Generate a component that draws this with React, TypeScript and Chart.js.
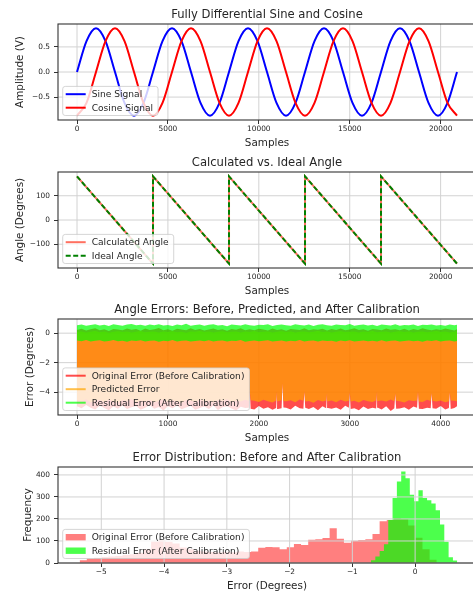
import React, { useEffect, useRef } from 'react';
import { Chart, registerables } from 'chart.js';

Chart.register(...registerables);

const FONT = 'DejaVu Sans';
const TXT = '#262626';

// ---------- Plot 1: sine / cosine ----------
const sigSamples = [
  0, 523, 1045, 1568, 2090, 2613, 3135, 3658,
  4180, 4703, 5225, 5748, 6270, 6793, 7315, 7838,
  8360, 8883, 9405, 9928, 10450, 10973, 11495, 12018,
  12540, 13063, 13585, 14108, 14630, 15153, 15675, 16198,
  16720, 17243, 17765, 18288, 18810, 19333, 19855, 20378,
  20900,
];
const sineValues = [
  0, 0.615, 0.87, 0.615, 0, -0.615, -0.87, -0.615,
  0, 0.615, 0.87, 0.615, 0, -0.615, -0.87, -0.615,
  0, 0.615, 0.87, 0.615, 0, -0.615, -0.87, -0.615,
  0, 0.615, 0.87, 0.615, 0, -0.615, -0.87, -0.615,
  0, 0.615, 0.87, 0.615, 0, -0.615, -0.87, -0.615,
  0,
];
const cosineValues = [
  -0.87, -0.615, 0, 0.615, 0.87, 0.615, 0, -0.615,
  -0.87, -0.615, 0, 0.615, 0.87, 0.615, 0, -0.615,
  -0.87, -0.615, 0, 0.615, 0.87, 0.615, 0, -0.615,
  -0.87, -0.615, 0, 0.615, 0.87, 0.615, 0, -0.615,
  -0.87, -0.615, 0, 0.615, 0.87, 0.615, 0, -0.615,
  -0.87,
];
const sampleTicks = [0, 5000, 10000, 15000, 20000];
const ampTicks = [-0.5, 0, 0.5];

// ---------- Plot 2: angles ----------
const angleSamples = [0, 4180, 4181, 8360, 8361, 12540, 12541, 16720, 16721, 20900];
const calcAngle = [180, -180, 180, -180, 180, -180, 180, -180, 180, -180];
const idealAngle = [180, -180, 180, -180, 180, -180, 180, -180, 180, -180];
const angleTicks = [-100, 0, 100];

// ---------- Plot 3: angle errors (band envelopes) ----------
const errSamples = [
  0, 50, 100, 150, 200, 250, 300, 350, 400, 450,
  500, 550, 600, 650, 700, 750, 800, 850, 900, 950,
  1000, 1050, 1100, 1150, 1200, 1250, 1300, 1350, 1400, 1450,
  1500, 1550, 1600, 1650, 1700, 1750, 1800, 1850, 1900, 1950,
  2000, 2050, 2100, 2150, 2200, 2250, 2300, 2350, 2400, 2450,
  2500, 2550, 2600, 2650, 2700, 2750, 2800, 2850, 2900, 2950,
  3000, 3050, 3100, 3150, 3200, 3250, 3300, 3350, 3400, 3450,
  3500, 3550, 3600, 3650, 3700, 3750, 3800, 3850, 3900, 3950,
  4000, 4050, 4100, 4150, 4179,
];
const origErrHigh = [
  0.22, 0.30, 0.18, 0.27, 0.33, 0.20, 0.26, 0.15, 0.29, 0.24,
  0.19, 0.31, 0.23, 0.28, 0.17, 0.32, 0.21, 0.26, 0.35, 0.20,
  0.27, 0.16, 0.30, 0.24, 0.19, 0.33, 0.22, 0.28, 0.18, 0.25,
  0.31, 0.21, 0.27, 0.17, 0.29, 0.23, 0.34, 0.20, 0.26, 0.19,
  0.30, 0.24, 0.18, 0.32, 0.22, 0.27, 0.16, 0.29, 0.25, 0.21,
  0.33, 0.19, 0.26, 0.23, 0.30, 0.18, 0.28, 0.22, 0.31, 0.20,
  0.25, 0.34, 0.21, 0.27, 0.17, 0.29, 0.24, 0.19, 0.32, 0.23,
  0.26, 0.20, 0.30, 0.18, 0.28, 0.22, 0.33, 0.25, 0.19, 0.27,
  0.21, 0.31, 0.24, 0.18, 0.26,
];
const predErrHigh = [
  0.08, 0.12, 0.04, 0.10, 0.14, 0.06, 0.11, 0.03, 0.09, 0.13,
  0.07, 0.12, 0.05, 0.10, 0.15, 0.06, 0.09, 0.12, 0.04, 0.11,
  0.08, 0.13, 0.06, 0.10, 0.03, 0.12, 0.09, 0.14, 0.07, 0.11,
  0.05, 0.10, 0.13, 0.06, 0.09, 0.12, 0.04, 0.11, 0.08, 0.14,
  0.06, 0.10, 0.12, 0.05, 0.09, 0.13, 0.07, 0.11, 0.04, 0.10,
  0.12, 0.06, 0.09, 0.14, 0.08, 0.11, 0.05, 0.10, 0.13, 0.07,
  0.09, 0.12, 0.04, 0.11, 0.08, 0.14, 0.06, 0.10, 0.12, 0.05,
  0.09, 0.13, 0.07, 0.11, 0.04, 0.10, 0.12, 0.06, 0.09, 0.14,
  0.08, 0.11, 0.05, 0.10, 0.12,
];
const residErrHigh = [
  0.53, 0.58, 0.50, 0.56, 0.61, 0.52, 0.57, 0.49, 0.60, 0.55,
  0.51, 0.58, 0.62, 0.53, 0.57, 0.50, 0.59, 0.54, 0.61, 0.52,
  0.56, 0.48, 0.58, 0.53, 0.63, 0.51, 0.55, 0.59, 0.50, 0.57,
  0.60, 0.52, 0.55, 0.47, 0.59, 0.56, 0.52, 0.61, 0.54, 0.50,
  0.57, 0.55, 0.60, 0.49, 0.56, 0.59, 0.53, 0.51, 0.61, 0.55,
  0.52, 0.58, 0.48, 0.57, 0.60, 0.54, 0.51, 0.59, 0.56, 0.53,
  0.62, 0.50, 0.55, 0.58, 0.52, 0.57, 0.48, 0.59, 0.55, 0.52,
  0.60, 0.51, 0.56, 0.53, 0.58, 0.49, 0.57, 0.55, 0.59, 0.52,
  0.56, 0.50, 0.58, 0.54, 0.57,
];
const residErrLow = [
  -0.50, -0.55, -0.47, -0.57, -0.52, -0.48, -0.56, -0.53, -0.46, -0.55,
  -0.51, -0.58, -0.49, -0.54, -0.48, -0.56, -0.52, -0.50, -0.59, -0.51,
  -0.55, -0.47, -0.56, -0.52, -0.49, -0.57, -0.53, -0.50, -0.55, -0.48,
  -0.57, -0.52, -0.49, -0.56, -0.51, -0.54, -0.47, -0.58, -0.53, -0.50,
  -0.55, -0.52, -0.48, -0.56, -0.53, -0.49, -0.57, -0.51, -0.55, -0.47,
  -0.56, -0.52, -0.50, -0.57, -0.49, -0.54, -0.52, -0.59, -0.50, -0.55,
  -0.48, -0.56, -0.53, -0.49, -0.55, -0.51, -0.57, -0.48, -0.56, -0.52,
  -0.50, -0.57, -0.53, -0.49, -0.55, -0.52, -0.58, -0.50, -0.54, -0.48,
  -0.56, -0.52, -0.49, -0.57, -0.53,
];
// lower edges of original / predicted error, with narrow gaps (spikes)
const lowSamples = [
  0, 50, 100, 150, 200, 250, 300, 350, 400, 450,
  500, 550, 600, 650, 700, 750, 800, 850, 900, 950,
  1000, 1050, 1100, 1150, 1200, 1250, 1300, 1350, 1400, 1450,
  1500, 1550, 1600, 1650, 1700, 1750, 1800, 1850,
  1890, 1900, 1910,
  1950, 2000, 2050, 2100, 2150,
  2190, 2200, 2210,
  2250, 2260, 2270,
  2300, 2350, 2400, 2450,
  2490, 2500, 2510,
  2550, 2600, 2650, 2700,
  2740, 2750, 2760,
  2800, 2850, 2900, 2950,
  2990, 3000, 3010,
  3050, 3100, 3150, 3200, 3250,
  3290, 3300, 3310,
  3350, 3400, 3450,
  3490, 3500, 3510,
  3550, 3600, 3650, 3700,
  3740, 3750, 3760,
  3800, 3850,
  3890, 3900, 3910,
  3950, 4000, 4050,
  4090, 4100, 4110,
  4150, 4179,
];
const predErrLow = [
  -4.55, -4.62, -4.48, -4.70, -4.58, -4.52, -4.66, -4.50, -4.61, -4.72,
  -4.54, -4.60, -4.47, -4.68, -4.56, -4.63, -4.51, -4.70, -4.58, -4.49,
  -4.65, -4.55, -4.61, -4.74, -4.52, -4.59, -4.67, -4.50, -4.62, -4.56,
  -4.71, -4.53, -4.60, -4.48, -4.66, -4.57, -4.63, -4.51,
  -4.60, -3.90, -4.55,
  -4.58, -4.66, -4.52, -4.61, -4.70,
  -4.57, -3.95, -4.62,
  -4.55, -3.40, -4.60,
  -4.62, -4.55, -4.68, -4.50,
  -4.58, -3.95, -4.64,
  -4.60, -4.72, -4.54, -4.63,
  -4.57, -4.05, -4.61,
  -4.57, -4.69, -4.51, -4.64,
  -4.59, -4.00, -4.63,
  -4.58, -4.70, -4.53, -4.61, -4.67,
  -4.55, -3.95, -4.60,
  -4.56, -4.64, -4.50,
  -4.62, -4.10, -4.58,
  -4.62, -4.71, -4.55, -4.60,
  -4.57, -3.98, -4.63,
  -4.66, -4.52,
  -4.60, -4.05, -4.58,
  -4.63, -4.57, -4.69,
  -4.61, -4.00, -4.56,
  -4.58, -4.62,
];
const origErrLow = [
  -4.95, -5.10, -4.88, -5.05, -5.18, -4.92, -5.08, -5.22, -4.98, -5.12,
  -4.90, -5.15, -5.02, -4.94, -5.20, -5.06, -4.89, -5.13, -5.00, -5.24,
  -4.96, -5.09, -4.91, -5.16, -5.04, -4.93, -5.19, -5.07, -4.97, -5.14,
  -4.90, -5.21, -5.03, -4.95, -5.11, -5.25, -4.99, -5.08,
  -5.05, -3.90, -5.12,
  -5.17, -4.94, -5.12, -5.02, -5.20,
  -5.08, -3.95, -5.15,
  -5.10, -3.40, -5.04,
  -5.06, -5.18, -4.93, -5.10,
  -5.12, -3.95, -5.06,
  -5.15, -5.00, -5.22, -4.96,
  -5.10, -4.05, -5.08,
  -5.13, -5.04, -5.19, -4.92,
  -5.06, -4.00, -5.14,
  -5.09, -5.23, -4.98, -5.14, -5.06,
  -5.11, -3.95, -5.05,
  -5.17, -4.95, -5.28,
  -5.09, -4.10, -5.13,
  -5.11, -5.02, -5.20, -4.97,
  -5.06, -3.98, -5.12,
  -5.15, -5.05,
  -5.10, -4.05, -5.09,
  -5.12, -4.94, -5.18,
  -5.07, -4.00, -5.14,
  -5.08, -4.96,
];
const errSampleTicks = [0, 1000, 2000, 3000, 4000];
const errTicks = [-4, -2, 0];

// ---------- Plot 4: histograms ----------
const origBinStart = -5.345;
const origBinWidth = 0.1138;
const origCounts = [
  12, 20, 24, 27, 30, 32, 36, 40, 46, 62,
  98, 104, 96, 88, 70, 62, 56, 52, 50, 48,
  50, 49, 52, 50, 52, 69, 73, 72, 62, 72,
  86, 82, 106, 108, 114, 158, 110, 92, 101, 105,
  108, 132, 190, 195, 203, 200, 170, 115, 62, 15,
];
const residBinStart = -0.703;
const residBinWidth = 0.0687;
const residCounts = [
  12, 30, 55, 85, 195, 295, 370, 415, 385, 310,
  280, 330, 295, 285, 270, 240, 175, 97, 26, 11,
];
const errorTicks = [-5, -4, -3, -2, -1, 0];
const freqTicks = [0, 100, 200, 300, 400];

// ---------- helpers ----------
function fmt(v: number, dec: number) {
  const s = Math.abs(v).toFixed(dec);
  return (v < 0 ? '\u2212' : '') + s;
}

function xy(xs: number[], ys: number[]) {
  return xs.map((x, i) => ({ x, y: ys[i] }));
}

function histPoints(start: number, width: number, counts: number[]) {
  const pts = [{ x: start, y: 0 }];
  counts.forEach((c, i) => pts.push({ x: start + i * width, y: c }));
  const end = start + counts.length * width;
  pts.push({ x: end, y: counts[counts.length - 1] });
  pts.push({ x: end, y: 0 });
  return pts;
}

type LegendItem = { label: string; color: string; dash?: number[]; patch?: boolean };
type Decor = {
  title: string;
  xLabel: string;
  yLabel: string;
  yLabelX: number;
  gridOnTop?: boolean;
  legend: LegendItem[];
};

function drawGrid(chart: any) {
  const { ctx, chartArea: a, scales } = chart;
  ctx.save();
  ctx.strokeStyle = '#d2d2d2';
  ctx.lineWidth = 1;
  scales.x.ticks.forEach((t: any) => {
    const p = scales.x.getPixelForValue(t.value);
    ctx.beginPath();
    ctx.moveTo(p, a.top);
    ctx.lineTo(p, a.bottom);
    ctx.stroke();
  });
  scales.y.ticks.forEach((t: any) => {
    const p = scales.y.getPixelForValue(t.value);
    ctx.beginPath();
    ctx.moveTo(a.left, p);
    ctx.lineTo(a.right, p);
    ctx.stroke();
  });
  ctx.restore();
}

function roundRectPath(ctx: any, x: number, y: number, w: number, h: number, r: number) {
  ctx.beginPath();
  ctx.moveTo(x + r, y);
  ctx.lineTo(x + w - r, y);
  ctx.quadraticCurveTo(x + w, y, x + w, y + r);
  ctx.lineTo(x + w, y + h - r);
  ctx.quadraticCurveTo(x + w, y + h, x + w - r, y + h);
  ctx.lineTo(x + r, y + h);
  ctx.quadraticCurveTo(x, y + h, x, y + h - r);
  ctx.lineTo(x, y + r);
  ctx.quadraticCurveTo(x, y, x + r, y);
  ctx.closePath();
}

function drawLegend(chart: any, items: LegendItem[]) {
  const { ctx, chartArea: a } = chart;
  ctx.save();
  ctx.font = `9.1px "${FONT}"`;
  const pitch = 13.5;
  const pad = 7.8;
  const textW = Math.max(...items.map((i) => ctx.measureText(i.label).width));
  const L = a.left + 4.7;
  const H = pad * 2 + pitch * (items.length - 1);
  const B = a.bottom - 4.5;
  const T = B - H;
  const W = 29 + textW + 5;
  roundRectPath(ctx, L, T, W, H, 2.5);
  ctx.fillStyle = 'rgba(255,255,255,0.8)';
  ctx.fill();
  ctx.strokeStyle = 'rgba(204,204,204,0.8)';
  ctx.lineWidth = 1;
  ctx.stroke();
  items.forEach((it, i) => {
    const cy = T + pad + i * pitch;
    if (it.patch) {
      ctx.fillStyle = it.color;
      ctx.fillRect(L + 3, cy - 3.2, 20, 6.4);
    } else {
      ctx.strokeStyle = it.color;
      ctx.lineWidth = 2;
      ctx.setLineDash(it.dash || []);
      ctx.beginPath();
      ctx.moveTo(L + 3, cy);
      ctx.lineTo(L + 23, cy);
      ctx.stroke();
      ctx.setLineDash([]);
    }
    ctx.fillStyle = TXT;
    ctx.textAlign = 'left';
    ctx.textBaseline = 'middle';
    ctx.fillText(it.label, L + 29, cy + 0.5);
  });
  ctx.restore();
}

function decorPlugin(cfg: Decor) {
  return {
    id: 'decor',
    beforeDatasetsDraw(chart: any) {
      if (!cfg.gridOnTop) drawGrid(chart);
    },
    afterDatasetsDraw(chart: any) {
      const { ctx, chartArea: a } = chart;
      if (cfg.gridOnTop) drawGrid(chart);
      ctx.save();
      ctx.strokeStyle = '#333333';
      ctx.lineWidth = 1.1;
      ctx.strokeRect(a.left, a.top, a.right - a.left, a.bottom - a.top);
      ctx.restore();
      drawLegend(chart, cfg.legend);
      ctx.save();
      ctx.fillStyle = TXT;
      ctx.textAlign = 'center';
      ctx.textBaseline = 'middle';
      ctx.font = `11.6px "${FONT}"`;
      ctx.fillText(cfg.title, (a.left + a.right) / 2, a.top - 9.5);
      ctx.font = `10.4px "${FONT}"`;
      ctx.fillText(cfg.xLabel, (a.left + a.right) / 2, a.bottom + 23);
      ctx.translate(cfg.yLabelX, (a.top + a.bottom) / 2);
      ctx.rotate(-Math.PI / 2);
      ctx.fillText(cfg.yLabel, 0, 0);
      ctx.restore();
    },
  };
}

type AxisCfg = { min: number; max: number; ticks: number[]; dec: number };

function baseOptions(x: AxisCfg, y: AxisCfg) {
  const tickFont = { family: FONT, size: 7.4 };
  const grid = { drawOnChartArea: false, drawTicks: true, tickLength: 4, tickColor: '#333333', tickWidth: 1 };
  return {
    responsive: false,
    animation: false,
    devicePixelRatio: 1,
    events: [],
    layout: { padding: { top: 24, right: 4, left: 0, bottom: 0 } },
    plugins: { legend: { display: false }, title: { display: false }, tooltip: { enabled: false } },
    elements: { point: { radius: 0 } },
    scales: {
      x: {
        type: 'linear',
        min: x.min,
        max: x.max,
        afterBuildTicks: (s: any) => {
          s.ticks = x.ticks.map((v) => ({ value: v }));
        },
        afterFit: (s: any) => {
          s.height = 28;
        },
        ticks: {
          autoSkip: false,
          maxRotation: 0,
          padding: 1,
          color: TXT,
          font: tickFont,
          callback: (v: any) => fmt(Number(v), x.dec),
        },
        grid,
        border: { display: false },
      },
      y: {
        type: 'linear',
        min: y.min,
        max: y.max,
        afterBuildTicks: (s: any) => {
          s.ticks = y.ticks.map((v) => ({ value: v }));
        },
        afterFit: (s: any) => {
          s.width = 58;
        },
        ticks: {
          autoSkip: false,
          padding: 4,
          color: TXT,
          font: tickFont,
          callback: (v: any) => fmt(Number(v), y.dec),
        },
        grid,
        border: { display: false },
      },
    },
  };
}

// ---------- chart configs ----------
function sineConfig(): any {
  return {
    type: 'line',
    data: {
      datasets: [
        { data: xy(sigSamples, cosineValues), borderColor: '#ff0000', borderWidth: 2, cubicInterpolationMode: 'monotone', pointRadius: 0, fill: false },
        { data: xy(sigSamples, sineValues), borderColor: '#0000ff', borderWidth: 2, cubicInterpolationMode: 'monotone', pointRadius: 0, fill: false },
      ],
    },
    options: baseOptions({ min: -1045, max: 21945, ticks: sampleTicks, dec: 0 }, { min: -0.957, max: 0.957, ticks: ampTicks, dec: 1 }),
    plugins: [
      decorPlugin({
        title: 'Fully Differential Sine and Cosine',
        xLabel: 'Samples',
        yLabel: 'Amplitude (V)',
        yLabelX: 20,
        legend: [
          { label: 'Sine Signal', color: '#0000ff' },
          { label: 'Cosine Signal', color: '#ff0000' },
        ],
      }),
    ],
  };
}

function angleConfig(): any {
  return {
    type: 'line',
    data: {
      datasets: [
        { data: xy(angleSamples, idealAngle), borderColor: '#008000', borderWidth: 2, borderDash: [5, 2.5], pointRadius: 0, fill: false },
        { data: xy(angleSamples, calcAngle), borderColor: '#ff7060', borderWidth: 2, pointRadius: 0, fill: false },
      ],
    },
    options: baseOptions({ min: -1045, max: 21945, ticks: sampleTicks, dec: 0 }, { min: -198, max: 198, ticks: angleTicks, dec: 0 }),
    plugins: [
      decorPlugin({
        title: 'Calculated vs. Ideal Angle',
        xLabel: 'Samples',
        yLabel: 'Angle (Degrees)',
        yLabelX: 20,
        legend: [
          { label: 'Calculated Angle', color: '#ff7060' },
          { label: 'Ideal Angle', color: '#008000', dash: [5, 2.5] },
        ],
      }),
    ],
  };
}

function errorConfig(): any {
  const band = (data: any, color: string, fill: any) => ({
    data,
    borderColor: 'rgba(0,0,0,0)',
    borderWidth: 0.5,
    backgroundColor: color,
    pointRadius: 0,
    fill,
  });
  const green = 'rgba(0,255,0,0.7)';
  const orange = 'rgba(255,165,0,0.7)';
  const red = 'rgba(255,0,0,0.7)';
  return {
    type: 'line',
    data: {
      datasets: [
        band(xy(errSamples, residErrHigh), green, '+1'),
        band(xy(errSamples, residErrLow), green, false),
        band(xy(errSamples, predErrHigh), orange, '+1'),
        band(xy(lowSamples, predErrLow), orange, false),
        band(xy(errSamples, origErrHigh), red, '+1'),
        band(xy(lowSamples, origErrLow), red, false),
      ],
    },
    options: baseOptions({ min: -209, max: 4388, ticks: errSampleTicks, dec: 0 }, { min: -5.55, max: 0.96, ticks: errTicks, dec: 0 }),
    plugins: [
      decorPlugin({
        title: 'Angle Errors: Before, Predicted, and After Calibration',
        xLabel: 'Samples',
        yLabel: 'Error (Degrees)',
        yLabelX: 30,
        legend: [
          { label: 'Original Error (Before Calibration)', color: red },
          { label: 'Predicted Error', color: orange },
          { label: 'Residual Error (After Calibration)', color: green },
        ],
      }),
    ],
  };
}

function histConfig(): any {
  const red = 'rgba(255,0,0,0.5)';
  const green = 'rgba(0,255,0,0.7)';
  const hist = (data: any, color: string) => ({
    data,
    stepped: 'before',
    borderColor: 'rgba(0,0,0,0)',
    borderWidth: 0.5,
    backgroundColor: color,
    pointRadius: 0,
    fill: 'origin',
  });
  return {
    type: 'line',
    data: {
      datasets: [
        hist(histPoints(residBinStart, residBinWidth, residCounts), green),
        hist(histPoints(origBinStart, origBinWidth, origCounts), red),
      ],
    },
    options: baseOptions({ min: -5.69, max: 0.97, ticks: errorTicks, dec: 0 }, { min: 0, max: 436, ticks: freqTicks, dec: 0 }),
    plugins: [
      decorPlugin({
        title: 'Error Distribution: Before and After Calibration',
        xLabel: 'Error (Degrees)',
        yLabel: 'Frequency',
        yLabelX: 28,
        gridOnTop: true,
        legend: [
          { label: 'Original Error (Before Calibration)', color: red, patch: true },
          { label: 'Residual Error (After Calibration)', color: green, patch: true },
        ],
      }),
    ],
  };
}

function Panel({ top, make }: { top: number; make: () => any }) {
  const ref = useRef<HTMLCanvasElement | null>(null);
  useEffect(() => {
    const chart = new Chart(ref.current as HTMLCanvasElement, make());
    return () => chart.destroy();
  }, []);
  return (
    <canvas
      ref={ref}
      width={480}
      height={148}
      style={{ position: 'absolute', left: 0, top, width: 480, height: 148, display: 'block' }}
    />
  );
}

export default function App() {
  return (
    <div
      style={{
        position: 'absolute',
        left: 0,
        top: 0,
        width: 473,
        height: 592,
        overflow: 'hidden',
        background: '#ffffff',
      }}
    >
      <Panel top={0} make={sineConfig} />
      <Panel top={148} make={angleConfig} />
      <Panel top={295} make={errorConfig} />
      <Panel top={443} make={histConfig} />
    </div>
  );
}
